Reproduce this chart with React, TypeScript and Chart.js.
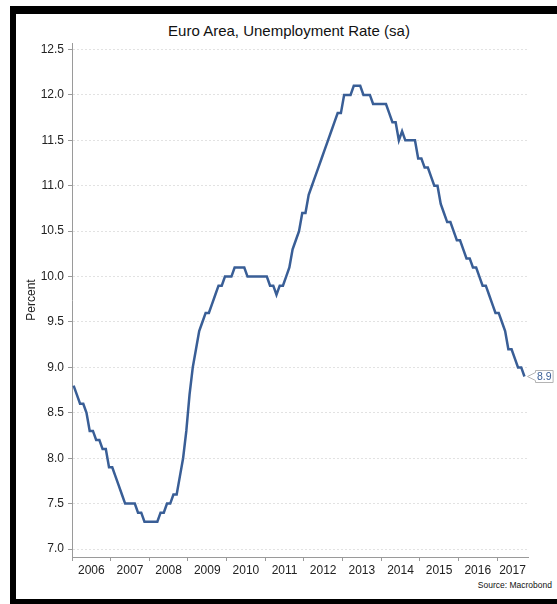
import React, { useEffect, useRef } from 'react';
import { Chart, registerables } from 'chart.js';

Chart.register(...registerables);

// ---- data ----
const yearLabels = ['2006', '2007', '2008', '2009', '2010', '2011', '2012', '2013', '2014', '2015', '2016', '2017'];

// Monthly euro-area unemployment rate, Jan 2006 .. Sep 2017
const rates = [
  8.8, 8.7, 8.6, 8.6, 8.5, 8.3, 8.3, 8.2, 8.2, 8.1, 8.1, 7.9,
  7.9, 7.8, 7.7, 7.6, 7.5, 7.5, 7.5, 7.5, 7.4, 7.4, 7.3, 7.3,
  7.3, 7.3, 7.3, 7.4, 7.4, 7.5, 7.5, 7.6, 7.6, 7.8, 8.0, 8.3,
  8.7, 9.0, 9.2, 9.4, 9.5, 9.6, 9.6, 9.7, 9.8, 9.9, 9.9, 10.0,
  10.0, 10.0, 10.1, 10.1, 10.1, 10.1, 10.0, 10.0, 10.0, 10.0, 10.0, 10.0,
  10.0, 9.9, 9.9, 9.8, 9.9, 9.9, 10.0, 10.1, 10.3, 10.4, 10.5, 10.7,
  10.7, 10.9, 11.0, 11.1, 11.2, 11.3, 11.4, 11.5, 11.6, 11.7, 11.8, 11.8,
  12.0, 12.0, 12.0, 12.1, 12.1, 12.1, 12.0, 12.0, 12.0, 11.9, 11.9, 11.9,
  11.9, 11.9, 11.8, 11.7, 11.7, 11.5, 11.6, 11.5, 11.5, 11.5, 11.5, 11.3,
  11.3, 11.2, 11.2, 11.1, 11.0, 11.0, 10.8, 10.7, 10.6, 10.6, 10.5, 10.4,
  10.4, 10.3, 10.2, 10.2, 10.1, 10.1, 10.0, 9.9, 9.9, 9.8, 9.7, 9.6,
  9.6, 9.5, 9.4, 9.2, 9.2, 9.1, 9.0, 9.0, 8.9,
];

const yTickValues = [7.0, 7.5, 8.0, 8.5, 9.0, 9.5, 10.0, 10.5, 11.0, 11.5, 12.0, 12.5];

const X_MIN = 0;
const X_MAX = 141.6;
const Y_MIN = 6.912;
const Y_MAX = 12.572;

const FONT = '"Liberation Sans", Arial, sans-serif';
const LINE_COLOR = '#395E96';
const AXIS_COLOR = '#9a9a9a';

const calloutPlugin = {
  id: 'lastValueCallout',
  afterDatasetsDraw(chart: any) {
    const meta = chart.getDatasetMeta(0);
    const pt = meta.data[meta.data.length - 1];
    if (!pt) return;
    const ctx = chart.ctx;
    const text = rates[rates.length - 1].toFixed(1);
    ctx.save();
    ctx.font = '10.5px ' + FONT;
    const tw = ctx.measureText(text).width;
    const tipX = Math.round(pt.x + 3) + 0.5;
    const y = Math.round(pt.y) + 0.5;
    const boxL = tipX + 8;
    const boxW = tw + 3;
    const half = 6;
    ctx.beginPath();
    ctx.moveTo(tipX, y);
    ctx.lineTo(boxL, y - 4);
    ctx.lineTo(boxL, y - half);
    ctx.lineTo(boxL + boxW, y - half);
    ctx.lineTo(boxL + boxW, y + half);
    ctx.lineTo(boxL, y + half);
    ctx.lineTo(boxL, y + 4);
    ctx.closePath();
    ctx.fillStyle = '#ffffff';
    ctx.fill();
    ctx.strokeStyle = '#b4b4b4';
    ctx.lineWidth = 1;
    ctx.stroke();
    ctx.fillStyle = LINE_COLOR;
    ctx.textAlign = 'center';
    ctx.textBaseline = 'middle';
    ctx.fillText(text, boxL + boxW / 2, y + 0.5);
    ctx.restore();
  },
};

export default function App() {
  const canvasRef = useRef<HTMLCanvasElement | null>(null);

  useEffect(() => {
    if (!canvasRef.current) return;
    const points = rates.map((v, i) => ({ x: i + 0.5, y: v }));
    const chart = new Chart(canvasRef.current, {
      type: 'line',
      data: {
        datasets: [
          {
            data: points,
            borderColor: LINE_COLOR,
            borderWidth: 2.5,
            pointRadius: 0,
            tension: 0,
            fill: false,
            xAxisID: 'x',
            yAxisID: 'y',
          },
        ],
      },
      options: {
        animation: false,
        responsive: false,
        devicePixelRatio: 1,
        layout: { padding: { left: 16, top: 43, right: 29, bottom: 0 } },
        plugins: {
          legend: { display: false },
          title: { display: false },
          tooltip: { enabled: false },
        },
        scales: {
          x: {
            type: 'linear',
            position: 'bottom',
            min: X_MIN,
            max: X_MAX,
            afterBuildTicks: (scale: any) => {
              scale.ticks = yearLabels.map((_, i) => ({ value: i * 12 }));
            },
            afterFit: (scale: any) => {
              scale.height = 4;
            },
            ticks: { display: false },
            grid: {
              drawOnChartArea: false,
              drawTicks: true,
              tickLength: 4,
              tickColor: AXIS_COLOR,
              tickWidth: 1,
            },
            border: { display: true, color: AXIS_COLOR, width: 1 },
          },
          x2: {
            type: 'linear',
            axis: 'x',
            position: 'bottom',
            min: X_MIN,
            max: X_MAX,
            afterBuildTicks: (scale: any) => {
              scale.ticks = yearLabels.map((_, i) => {
                const start = i * 12;
                const end = Math.min(start + 12, X_MAX);
                return { value: (start + end) / 2 };
              });
            },
            afterFit: (scale: any) => {
              scale.height = 43;
            },
            ticks: {
              autoSkip: false,
              maxRotation: 0,
              padding: 2,
              color: '#222',
              font: { family: FONT, size: 12 },
              callback: (_v: any, i: number) => yearLabels[i],
            },
            grid: { display: false, drawTicks: false },
            border: { display: false },
          },
          y: {
            type: 'linear',
            position: 'left',
            min: Y_MIN,
            max: Y_MAX,
            afterBuildTicks: (scale: any) => {
              scale.ticks = yTickValues.map((v) => ({ value: v }));
            },
            afterFit: (scale: any) => {
              scale.width = 56;
            },
            ticks: {
              padding: 4,
              color: '#222',
              font: { family: FONT, size: 12 },
              callback: (v: any) => Number(v).toFixed(1),
            },
            grid: {
              color: '#e2e2e2',
              lineWidth: 1,
              drawTicks: true,
              tickLength: 4,
              tickColor: AXIS_COLOR,
              tickBorderDash: [],
            },
            border: { display: true, color: AXIS_COLOR, width: 1, dash: [2, 2] },
            title: {
              display: true,
              text: 'Percent',
              color: '#222',
              font: { family: FONT, size: 12 },
              padding: { top: 8, bottom: 0 },
            },
          },
        },
      },
      plugins: [calloutPlugin],
    } as any);
    return () => chart.destroy();
  }, []);

  return (
    <div
      style={{
        position: 'absolute',
        left: 0,
        top: 0,
        width: 557,
        height: 604,
        background: '#fff',
        overflow: 'hidden',
        fontFamily: FONT,
      }}
    >
      <div
        style={{
          position: 'absolute',
          left: 10,
          top: 6,
          width: 547,
          height: 598,
          boxSizing: 'border-box',
          borderTop: '8px solid #000',
          borderLeft: '6px solid #000',
          borderBottom: '5px solid #000',
        }}
      />
      <div
        style={{
          position: 'absolute',
          left: 89,
          width: 400,
          top: 23,
          textAlign: 'center',
          fontSize: 15,
          lineHeight: '15px',
          color: '#111',
          whiteSpace: 'nowrap',
        }}
      >
        Euro Area, Unemployment Rate (sa)
      </div>
      <div
        style={{
          position: 'absolute',
          right: 5,
          top: 581,
          fontSize: 8.5,
          lineHeight: '9px',
          color: '#111',
          whiteSpace: 'nowrap',
        }}
      >
        Source: Macrobond
      </div>
      <canvas
        ref={canvasRef}
        width={557}
        height={604}
        style={{ position: 'absolute', left: 0, top: 0, width: 557, height: 604 }}
      />
    </div>
  );
}
